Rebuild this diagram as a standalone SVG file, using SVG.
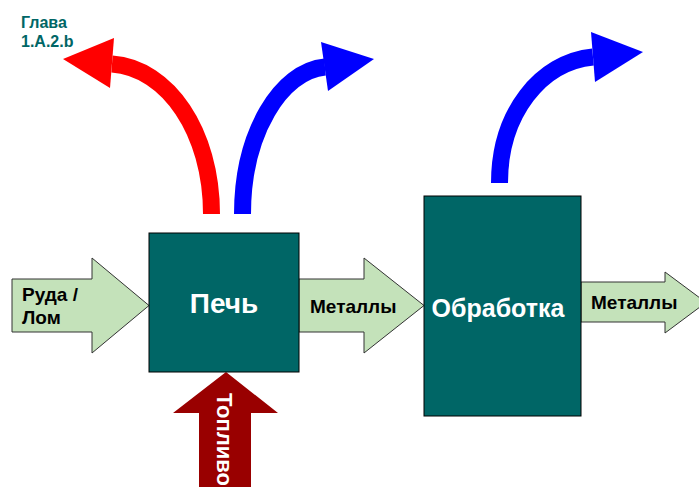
<svg xmlns="http://www.w3.org/2000/svg" width="699" height="487" viewBox="0 0 699 487">
<defs>
<style>
.box{fill:#006666;stroke:#000;stroke-width:1}
.flow{fill:#C4E2BA;stroke:#333;stroke-width:1}
.t{font-family:"Liberation Sans",Arial,sans-serif;font-weight:bold}
.bl{fill:#000;font-size:19px}
.wh{fill:#fff}
.curve{fill:none;stroke-width:17}
</style>
</defs>
<rect width="699" height="487" fill="#fff"/>
<text class="t" x="21" y="28" font-size="16" fill="#006666">Глава</text>
<text class="t" x="21" y="47" font-size="16" fill="#006666">1.A.2.b</text>
<g id="connectors">
<path class="curve" stroke="#FF0000" d="M211.5,214 C211.5,132 168,68 112,64"/>
<polygon fill="#FF0000" points="63,59 114,38 110,88"/>
<path class="curve" stroke="#0000FF" d="M242.5,214 C242.5,133 281,71 325,67"/>
<polygon fill="#0000FF" points="374,59 321,42 328,91"/>
<path class="curve" stroke="#0000FF" d="M499.5,183 C499.5,113 541,62 593,57"/>
<polygon fill="#0000FF" points="643,52 591,32 595,82"/>
<g id="ruda">
<polygon class="flow" points="12,279 92,279 92,258 149,305.5 92,353 92,332 12,332"/>
<text class="t bl" x="22" y="301">Руда /</text>
<text class="t bl" x="22" y="324">Лом</text>
</g>
<g id="metally1">
<polygon class="flow" points="299,279 364,279 364,258 424,305.5 364,353 364,332 299,332"/>
<text class="t bl" x="310" y="313">Металлы</text>
</g>
<g id="metally2">
<polygon class="flow" points="581,282 665,282 665,272 706,302.5 665,333 665,322 581,322"/>
<text class="t bl" x="591" y="309">Металлы</text>
</g>
<g id="toplivo">
<polygon fill="#990000" points="226,372 278,413 251,413 251,490 199,490 199,413 173,413"/>
<text class="t wh" font-size="22" transform="translate(217,393) rotate(90)">Топливо</text>
</g>
</g>
<g id="pech">
<rect class="box" x="149" y="233" width="150" height="139"/>
<text class="t wh" x="224" y="313" font-size="28" text-anchor="middle">Печь</text>
</g>
<g id="obrabotka">
<rect class="box" x="424" y="196" width="157" height="220"/>
<text class="t wh" x="498" y="317" font-size="25" text-anchor="middle">Обработка</text>
</g>
</svg>
